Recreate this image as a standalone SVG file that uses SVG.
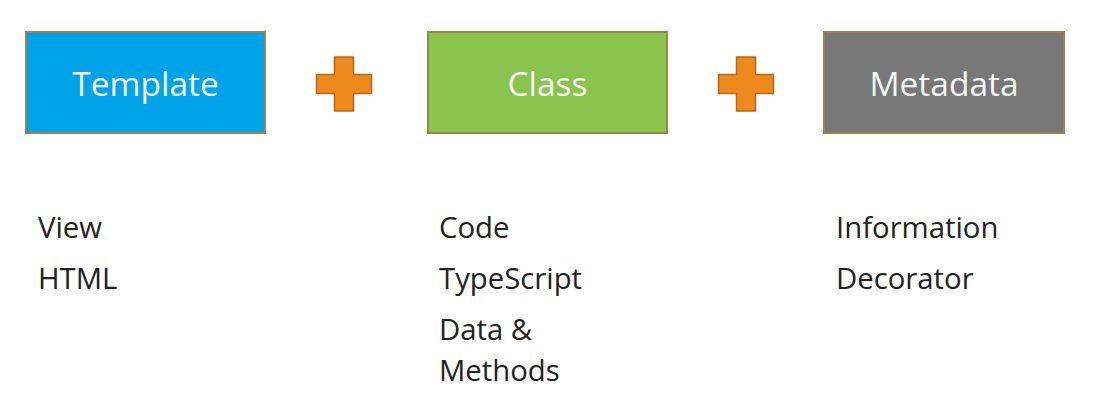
<svg xmlns="http://www.w3.org/2000/svg" width="1095" height="406" viewBox="0 0 1095 406">
  <style>
    .box { stroke: #a0804f; stroke-width: 2; }
    .box-label { font-family: "Open Sans", "Liberation Sans", sans-serif; font-size: 33.5px; fill: #f4f8f4; text-anchor: middle; }
    .note { font-family: "Open Sans", "Liberation Sans", sans-serif; font-size: 29.3px; fill: #222222; }
    .plus { fill: #ee8a1c; stroke: #b8661a; stroke-width: 1.5; }
  </style>
  <defs>
    <!-- plus sign centred on the origin -->
    <path id="plus-shape" d="M -9.5 -27 H 9.5 V -9.5 H 27.5 V 9.5 H 9.5 V 27 H -9.5 V 9.5 H -27.5 V -9.5 H -9.5 Z"/>
  </defs>
  <rect width="1095" height="406" fill="#ffffff"/>

  <g id="template">
    <rect class="box" x="26" y="32" width="239" height="101" fill="#00a2e8"/>
    <text class="box-label" x="145.5" y="96">Template</text>
    <text class="note" x="38" y="238">View</text>
    <text class="note" x="38" y="289">HTML</text>
  </g>

  <g id="class">
    <rect class="box" x="428" y="32" width="239" height="101" fill="#8bc34f"/>
    <text class="box-label" x="547.5" y="96">Class</text>
    <text class="note" x="439" y="238">Code</text>
    <text class="note" x="439" y="289">TypeScript</text>
    <text class="note" x="439" y="340">Data &amp;</text>
    <text class="note" x="439" y="381">Methods</text>
  </g>

  <g id="metadata">
    <rect class="box" x="824" y="32" width="240" height="101" fill="#787878"/>
    <text class="box-label" x="944" y="96">Metadata</text>
    <text class="note" x="836" y="238">Information</text>
    <text class="note" x="836" y="289">Decorator</text>
  </g>

  <g id="connectors">
    <use href="#plus-shape" class="plus" transform="translate(344 84)"/>
    <use href="#plus-shape" class="plus" transform="translate(746 84)"/>
  </g>
</svg>
